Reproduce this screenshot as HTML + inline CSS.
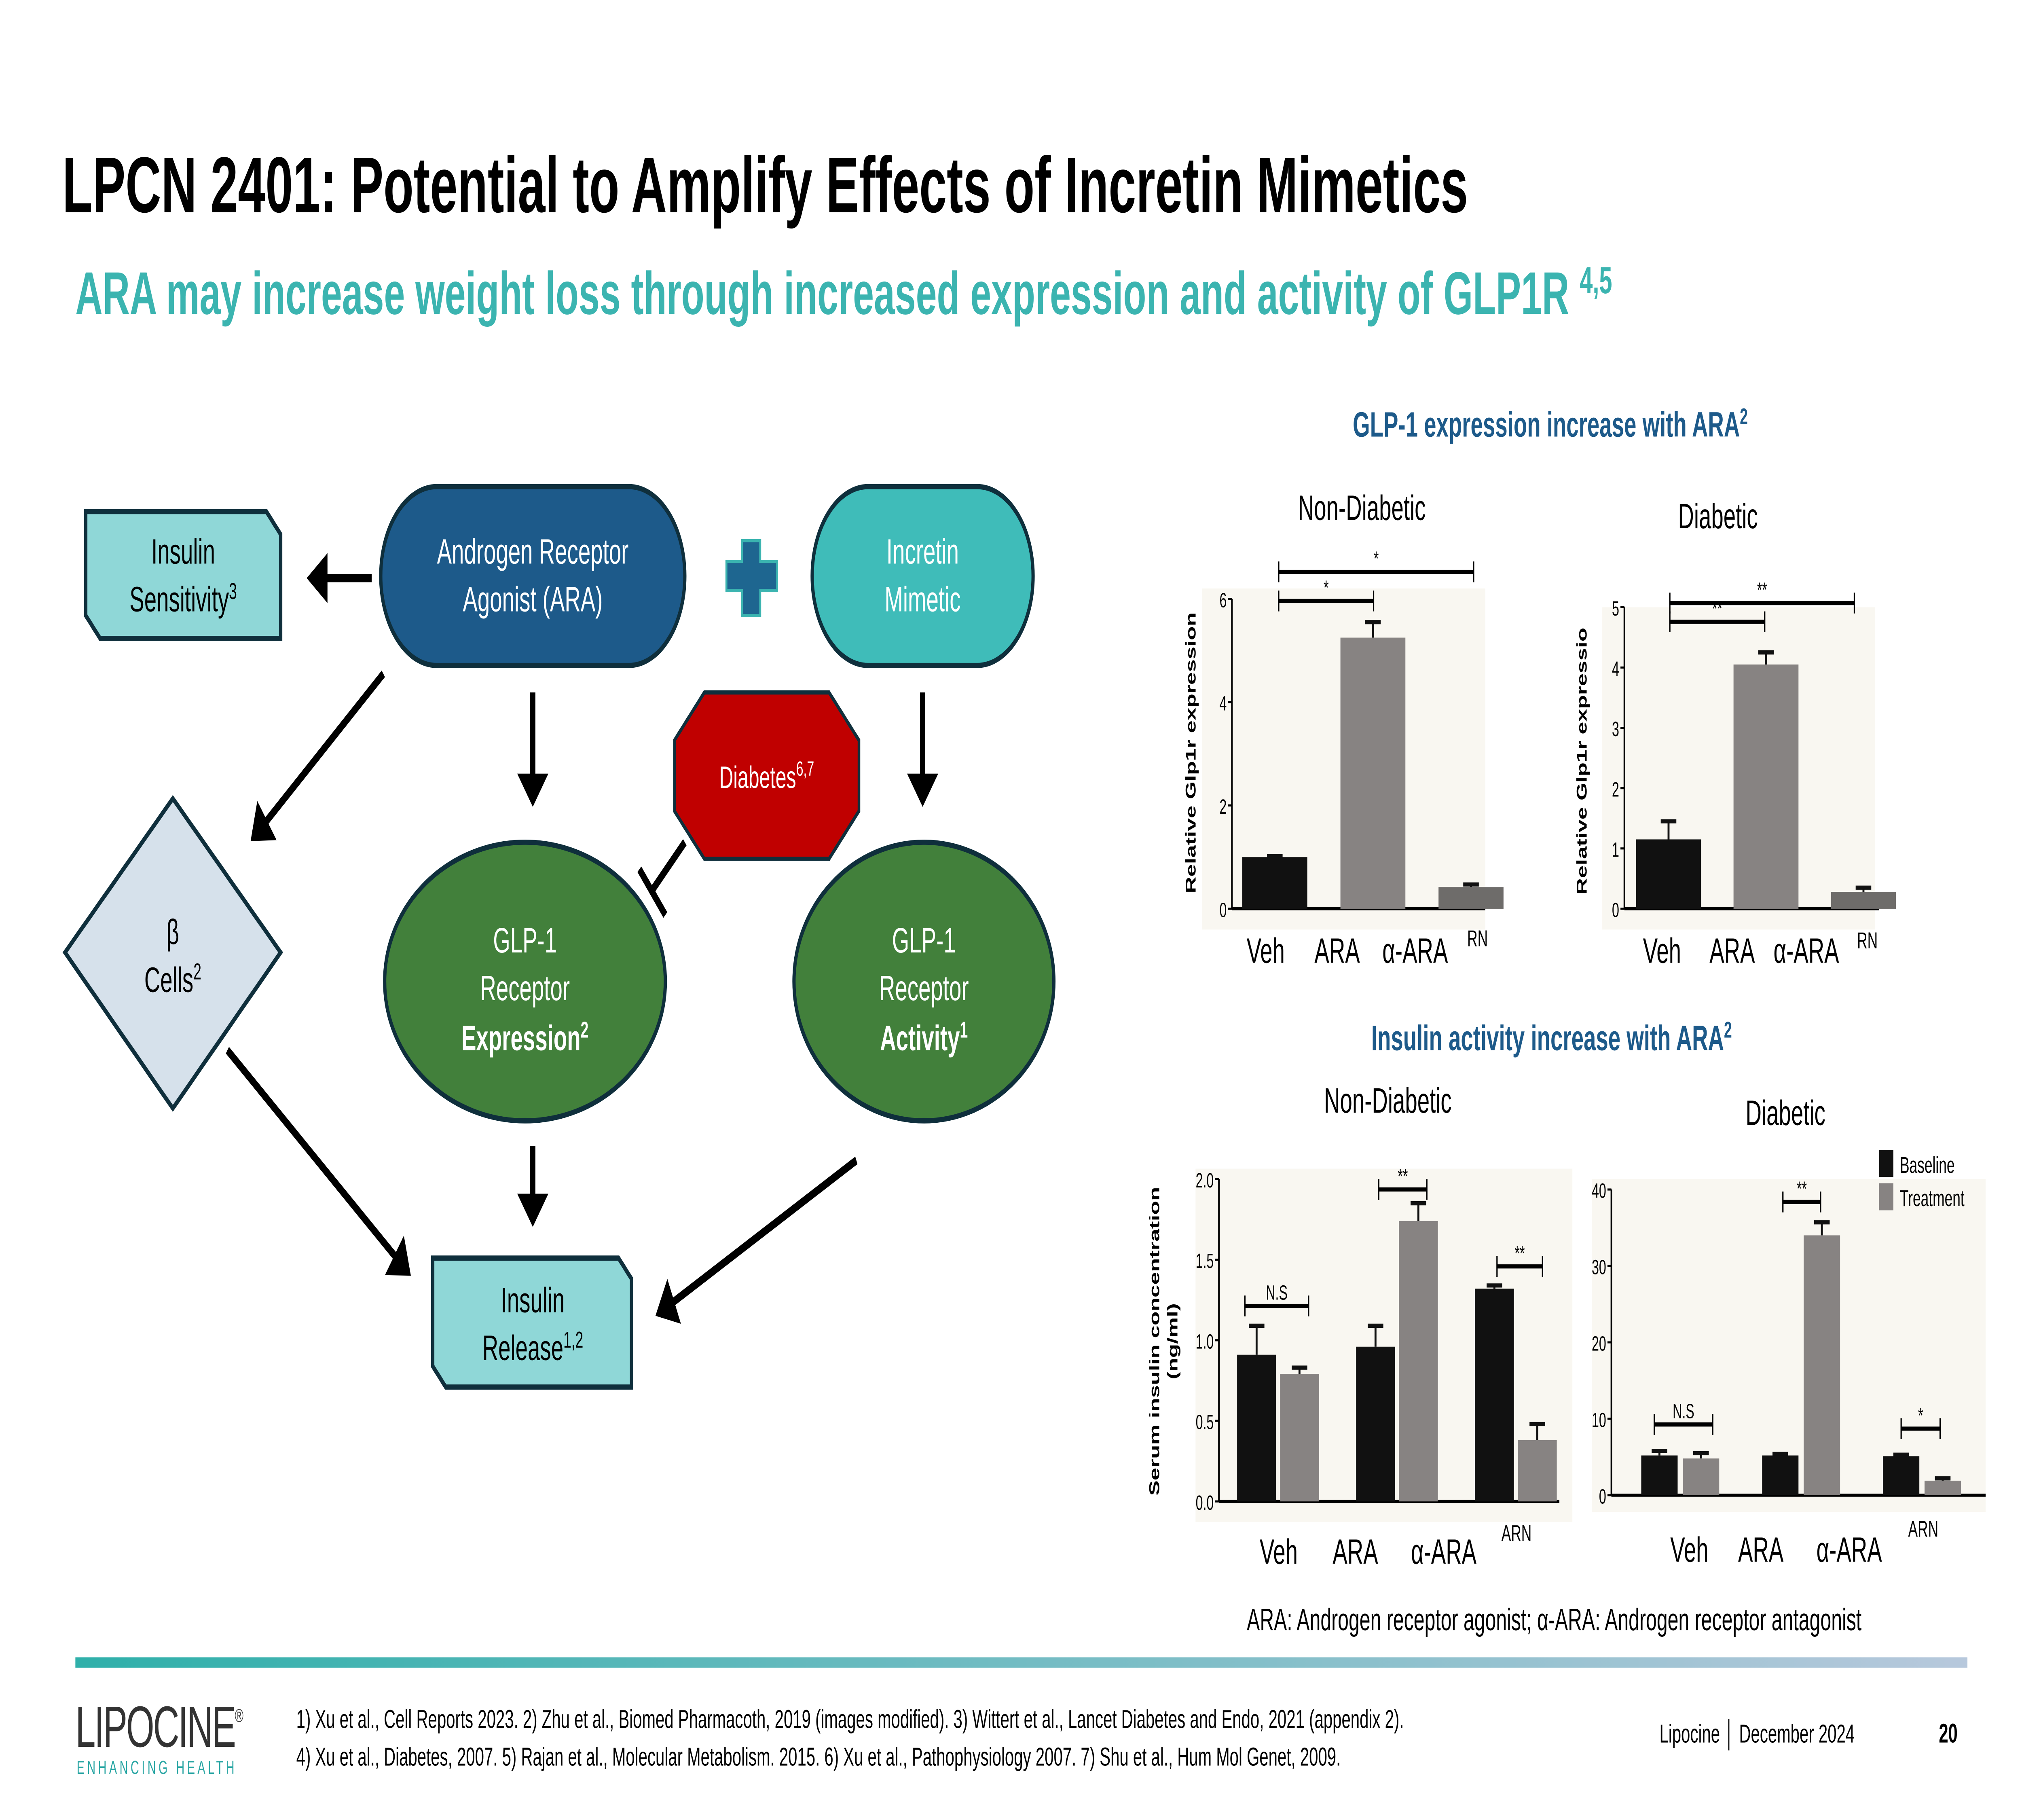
<!DOCTYPE html>
<html><head><meta charset="utf-8"><style>
html,body{margin:0;padding:0;background:#fff;width:100%;height:100%;overflow:hidden;}
svg{display:block;width:100vw;height:100vh;font-family:"Liberation Sans",sans-serif;}
</style></head><body>
<svg id="s" viewBox="0 0 1556 875.2" preserveAspectRatio="none" xmlns="http://www.w3.org/2000/svg">
<defs>
<linearGradient id="lg" x1="0" x2="1"><stop offset="0" stop-color="#2fb0aa"/><stop offset="1" stop-color="#b7c8dc"/></linearGradient>
<marker id="ah" markerWidth="6" markerHeight="6" refX="3" refY="3" orient="auto" markerUnits="strokeWidth"><path d="M0,0 L4,3 L0,6 z" fill="#000"/></marker>
</defs>
<text x="48" y="102" font-size="38" font-weight="bold" fill="#000">LPCN 2401: Potential to Amplify Effects of Incretin Mimetics</text>
<text x="58" y="151" font-size="29" font-weight="bold" fill="#3bb4b0">ARA may increase weight loss through increased expression and activity of GLP1R <tspan font-size="18" dy="-10">4,5</tspan></text>

<!-- diagram -->
<g font-size="17">
<path d="M66,246 H205 L216,257 V307 H77 L66,296 Z" fill="#8fd7d7" stroke="#0f2f3c" stroke-width="2.5"/>
<text x="141" y="271" text-anchor="middle">Insulin</text><text x="141" y="294" text-anchor="middle">Sensitivity<tspan font-size="11" dy="-6">3</tspan></text>
<rect x="293" y="234" width="234" height="86" rx="43" fill="#1d5a8a" stroke="#0f2f3c" stroke-width="2.5"/>
<text x="410" y="271" text-anchor="middle" fill="#fff">Androgen Receptor</text><text x="410" y="294" text-anchor="middle" fill="#fff">Agonist (ARA)</text>
<path d="M571,260 h14 v10 h13 v14 h-13 v12 h-14 v-12 h-12 v-14 h12z" fill="#1e6690" stroke="#3bb4b0" stroke-width="1.5"/>
<rect x="625" y="234" width="170" height="86" rx="43" fill="#3fbcb9" stroke="#0f2f3c" stroke-width="2.5"/>
<text x="710" y="271" text-anchor="middle" fill="#fff">Incretin</text><text x="710" y="294" text-anchor="middle" fill="#fff">Mimetic</text>
<path d="M542,333 H638 L661,356 V390 L638,413 H542 L519,390 V356 Z" fill="#c00000" stroke="#0f2f3c" stroke-width="2"/>
<text x="590" y="379" text-anchor="middle" fill="#fff" font-size="15">Diabetes<tspan font-size="10" dy="-6">6,7</tspan></text>
<ellipse cx="404" cy="472" rx="108" ry="67" fill="#42803b" stroke="#0f2f3c" stroke-width="2.5"/>
<text x="404" y="458" text-anchor="middle" fill="#fff">GLP-1</text><text x="404" y="481" text-anchor="middle" fill="#fff">Receptor</text><text x="404" y="505" text-anchor="middle" fill="#fff" font-weight="bold">Expression<tspan font-size="11" dy="-6">2</tspan></text>
<ellipse cx="711" cy="472" rx="100" ry="67" fill="#42803b" stroke="#0f2f3c" stroke-width="2.5"/>
<text x="711" y="458" text-anchor="middle" fill="#fff">GLP-1</text><text x="711" y="481" text-anchor="middle" fill="#fff">Receptor</text><text x="711" y="505" text-anchor="middle" fill="#fff" font-weight="bold">Activity<tspan font-size="11" dy="-6">1</tspan></text>
<path d="M133,384 L216,458 L133,533 L50,458 Z" fill="#d6e1eb" stroke="#0f2f3c" stroke-width="2.5"/>
<text x="133" y="454" text-anchor="middle">β</text><text x="133" y="477" text-anchor="middle">Cells<tspan font-size="11" dy="-6">2</tspan></text>
<path d="M333,605 H476 L486,615 V667 H343 L333,657 Z" fill="#8fd7d7" stroke="#0f2f3c" stroke-width="2.5"/>
<text x="410" y="631" text-anchor="middle">Insulin</text><text x="410" y="654" text-anchor="middle">Release<tspan font-size="11" dy="-6">1,2</tspan></text>
<g stroke="#000" stroke-width="4" fill="none" marker-end="url(#ah)">
<line x1="286" y1="278" x2="240" y2="278"/>
<line x1="295" y1="324" x2="196" y2="402"/>
<line x1="410" y1="333" x2="410" y2="384"/>
<line x1="710" y1="333" x2="710" y2="384"/>
<line x1="410" y1="551" x2="410" y2="586"/>
<line x1="175" y1="505" x2="313" y2="611"/>
<line x1="659" y1="558" x2="508" y2="631"/>
</g>
<line x1="527" y1="405" x2="502" y2="428" stroke="#000" stroke-width="4"/>
<line x1="492" y1="418" x2="512" y2="440" stroke="#000" stroke-width="4"/>
</g>

<!-- chart titles -->
<text x="1193" y="210" text-anchor="middle" font-size="17" font-weight="bold" fill="#1d5a8a">GLP-1 expression increase with ARA<tspan font-size="11" dy="-6">2</tspan></text>
<text x="1048" y="250" text-anchor="middle" font-size="17">Non-Diabetic</text>
<text x="1322" y="254" text-anchor="middle" font-size="17">Diabetic</text>
<text x="1194" y="505" text-anchor="middle" font-size="17" font-weight="bold" fill="#1d5a8a">Insulin activity increase with ARA<tspan font-size="11" dy="-6">2</tspan></text>
<text x="1068" y="535" text-anchor="middle" font-size="17">Non-Diabetic</text>
<text x="1374" y="541" text-anchor="middle" font-size="17">Diabetic</text>
<text x="1196" y="784" text-anchor="middle" font-size="15">ARA: Androgen receptor agonist;  α-ARA: Androgen receptor antagonist</text>
<g id="charts"></g>

<!-- footer -->
<rect x="58" y="797" width="1456" height="5" fill="url(#lg)"/>
<text x="58" y="840" font-size="28" fill="#333" letter-spacing="-1">LIPOCINE<tspan font-size="9" dy="-12">®</tspan></text>
<text x="59" y="853" font-size="9" fill="#2aa6a4" letter-spacing="2">ENHANCING HEALTH</text>
<text x="228" y="831" font-size="12.5">1) Xu et al., Cell Reports 2023. 2) Zhu et al., Biomed Pharmacoth, 2019 (images modified). 3) Wittert et al., Lancet Diabetes and Endo, 2021 (appendix 2).</text>
<text x="228" y="849" font-size="12.5">4) Xu et al., Diabetes, 2007. 5) Rajan et al., Molecular Metabolism. 2015. 6) Xu et al., Pathophysiology 2007. 7) Shu et al., Hum Mol Genet, 2009.</text>
<text x="1277" y="838" font-size="12.5">Lipocine │ December 2024</text>
<text x="1492" y="838" font-size="13" font-weight="bold">20</text>
</svg>
<script>
const groups=["Veh","ARA","α-ARA"];
const c1Values=[1.0,5.25,0.42];
const c1Err=[1.02,5.55,0.47];
const c1Ticks=[0,2,4,6];
const c2Values=[1.15,4.05,0.28];
const c2Err=[1.45,4.25,0.35];
const c2Ticks=[0,1,2,3,4,5];
const c3Base=[0.91,0.96,1.32];
const c3BaseErr=[1.09,1.09,1.34];
const c3Treat=[0.79,1.74,0.38];
const c3TreatErr=[0.83,1.85,0.48];
const c3Ticks=["0.0","0.5","1.0","1.5","2.0"];
const c4Base=[5.2,5.2,5.1];
const c4BaseErr=[5.8,5.4,5.3];
const c4Treat=[4.8,34,1.9];
const c4TreatErr=[5.5,35.7,2.2];
const c4Ticks=[0,10,20,30,40];

const NS="http://www.w3.org/2000/svg";
const root=document.getElementById('charts');
function mk(tag,attrs,parent,txt){const e=document.createElementNS(NS,tag);for(const k in attrs)e.setAttribute(k,attrs[k]);if(txt!==undefined)e.textContent=txt;(parent||root).appendChild(e);return e;}

function chart(cfg){
  const g=mk('g',{});
  
  
  mk('rect',{x:cfg.bg[0],y:cfg.bg[1],width:cfg.bg[2],height:cfg.bg[3],fill:'#f9f7f1'},g);
  const y=v=>cfg.y0-(v/cfg.max)*(cfg.y0-cfg.ytop);
  mk('line',{x1:cfg.x0,y1:cfg.y0,x2:cfg.x0,y2:cfg.ytop,stroke:'#000','stroke-width':1.2},g);
  mk('line',{x1:cfg.x0,y1:cfg.y0,x2:cfg.x1,y2:cfg.y0,stroke:'#000','stroke-width':1.5},g);
  cfg.ticks.forEach(t=>{const yy=y(parseFloat(t));
    mk('line',{x1:cfg.x0-3,y1:yy,x2:cfg.x0,y2:yy,stroke:'#000'},g);
    const tl=mk('text',{x:cfg.x0-4,y:yy+4,'font-size':10,'text-anchor':'end'},g,t);
    
    
  });
  cfg.series.forEach(s=>{
    s.vals.forEach((v,i)=>{
      const bx=cfg.gx(i)+s.off;
      const ey=y(s.err[i]);const cx=bx+cfg.bw/2;
      mk('line',{x1:cx,y1:y(v),x2:cx,y2:ey,stroke:'#111','stroke-width':1.5},g);
      mk('line',{x1:cx-6,y1:ey,x2:cx+6,y2:ey,stroke:'#111','stroke-width':2},g);
      const b=mk('rect',{x:bx,y:y(v),width:cfg.bw,height:cfg.y0-y(v),fill:Array.isArray(s.col)?s.col[i]:s.col},g);
      
      
    });
  });
  groups.forEach((n,i)=>{
    const l=mk('text',{x:cfg.lx[i],y:cfg.ly,'font-size':17,'text-anchor':'middle'},g,n);
    
    
  });
  mk('text',{x:cfg.arn[0],y:cfg.arn[1],'font-size':11,'text-anchor':'middle'},g,cfg.arnT);
  const yl=mk('text',{transform:`translate(${cfg.yl[0]},${cfg.yl[1]}) rotate(-90)`,'font-size':11,'font-weight':'bold','text-anchor':'middle'},g,cfg.ytitle);
  
  
  (cfg.sig||[]).forEach(s=>{
    mk('line',{x1:s[0],y1:s[2],x2:s[1],y2:s[2],stroke:'#000','stroke-width':2},g);
    mk('line',{x1:s[0],y1:s[2]-5,x2:s[0],y2:s[2]+5,stroke:'#000'},g);
    mk('line',{x1:s[1],y1:s[2]-5,x2:s[1],y2:s[2]+5,stroke:'#000'},g);
    mk('text',{x:(s[0]+s[1])/2,y:s[2]-3,'font-size':10,'text-anchor':'middle'},g,s[3]);
  });
}
chart({name:'chart-glp1-nondiabetic',bg:[925,283,218,164],x0:948,x1:1143,y0:437,ytop:288,max:6,ticks:c1Ticks,bw:50,gx:i=>956+i*75.5,
 series:[{id:'glp1',vals:c1Values,err:c1Err,off:0,col:['#111','#878382','#6e6c6a']}],
 lx:[974,1029,1089],ly:463,arn:[1137,455],arnT:'RN',yl:[920,362],ytitle:'Relative Glp1r expression',
 sig:[[984,1057,289,'*'],[984,1134,275,'*']]});
chart({name:'chart-glp1-diabetic',bg:[1233,292,210,155],x0:1250,x1:1446,y0:437,ytop:292,max:5,ticks:c2Ticks,bw:50,gx:i=>1259+i*75,
 series:[{id:'glp1',vals:c2Values,err:c2Err,off:0,col:['#111','#878382','#6e6c6a']}],
 lx:[1279,1333,1390],ly:463,arn:[1437,456],arnT:'RN',yl:[1221,366],ytitle:'Relative Glp1r expressio',
 sig:[[1285,1358,299,'**'],[1285,1427,290,'**']]});
chart({name:'chart-insulin-nondiabetic',bg:[920,562,290,170],x0:938,x1:1200,y0:722,ytop:567,max:2,ticks:c3Ticks,bw:30,gx:i=>952+i*91.5,
 series:[{id:'baseline',vals:c3Base,err:c3BaseErr,off:0,col:'#111'},{id:'treatment',vals:c3Treat,err:c3TreatErr,off:33,col:'#878382'}],
 lx:[984,1043,1111],ly:752,arn:[1167,741],arnT:'ARN',yl:[892,645],ytitle:'Serum insulin concentration',
 sig:[[958,1007,628,'N.S'],[1061,1098,572,'**'],[1152,1187,609,'**']]});
mk('text',{transform:'translate(906,645) rotate(-90)','font-size':11,'font-weight':'bold','text-anchor':'middle'},root,'(ng/ml)');
chart({name:'chart-insulin-diabetic',bg:[1225,567,303,160],x0:1240,x1:1528,y0:719,ytop:572,max:40,ticks:c4Ticks,bw:28,gx:i=>1263+i*93,
 series:[{id:'baseline',vals:c4Base,err:c4BaseErr,off:0,col:'#111'},{id:'treatment',vals:c4Treat,err:c4TreatErr,off:32,col:'#878382'}],
 lx:[1300,1355,1423],ly:751,arn:[1480,739],arnT:'ARN',yl:[0,0],ytitle:'',
 sig:[[1273,1318,685,'N.S'],[1372,1401,578,'**'],[1463,1493,687,'*']]});
const leg=mk('g',{});


mk('rect',{x:1446,y:553,width:11,height:13,fill:'#111'},leg);
mk('text',{x:1462,y:564,'font-size':11},leg,'Baseline');
mk('rect',{x:1446,y:569,width:11,height:13,fill:'#878382'},leg);
mk('text',{x:1462,y:580,'font-size':11},leg,'Treatment');
</script>
</body></html>
